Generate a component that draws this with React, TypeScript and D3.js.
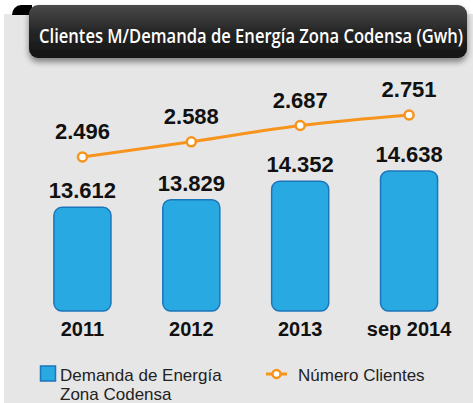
import * as d3 from "d3";

const periods = ["2011", "2012", "2013", "sep 2014"];
const demand = [13612, 13829, 14352, 14638];
const clients = [2496, 2588, 2687, 2751];
const demandLabels = ["13.612", "13.829", "14.352", "14.638"];
const clientLabels = ["2.496", "2.588", "2.687", "2.751"];

const W = 473;
const H = 403;

export default function App() {
  const x = d3.scaleBand().domain(periods).range([28, 463.5]).paddingInner(0.476).paddingOuter(0.238);
  const yBar = d3.scaleLinear().domain([10686, 14638]).range([311, 171]);
  const yLine = d3.scaleLinear().domain([2496, 2751]).range([157, 115]);
  const cx = (p: string) => (x(p) as number) + x.bandwidth() / 2;

  const line = d3
    .line<number>()
    .x((_, i) => cx(periods[i]))
    .y((d) => yLine(d))
    .curve(d3.curveMonotoneX);

  const titleScale = 0.87;

  return (
    <svg
      width={W}
      height={H}
      style={{ position: "absolute", left: 0, top: 0 }}
      fontFamily="'Liberation Sans', Arial, sans-serif"
    >
      <defs>
        <linearGradient id="banner" x1="0" y1="0" x2="0" y2="1">
          <stop offset="0" stopColor="#4a4a4a" />
          <stop offset="0.5" stopColor="#262626" />
          <stop offset="1" stopColor="#141414" />
        </linearGradient>
        <filter id="shadow" x="-5%" y="-20%" width="110%" height="160%">
          <feGaussianBlur in="SourceAlpha" stdDeviation="3" />
          <feOffset dx="0" dy="4" />
          <feComponentTransfer>
            <feFuncA type="linear" slope="0.45" />
          </feComponentTransfer>
          <feMerge>
            <feMergeNode />
            <feMergeNode in="SourceGraphic" />
          </feMerge>
        </filter>
      </defs>
      <rect x={0} y={0} width={W} height={H} fill="#ffffff" />
      <rect x={4} y={14} width={W - 4} height={H - 14} fill="#e6e6e6" />

      {/* title banner with curl */}
      <path d="M12,15 A9,10 0 0 1 21,5 L32,5 L32,15 Z" fill="#000" />
      <rect x={29} y={5} width={438} height={53} rx={9} fill="url(#banner)" filter="url(#shadow)" />
      <g transform={`translate(39,43) scale(${titleScale},1)`}>
        <text
          x={0}
          y={0}
          fill="#ffffff"
          fontFamily="'Open Sans', sans-serif"
          fontWeight={600}
          fontSize={19}
          textLength={424 / titleScale}
          lengthAdjust="spacingAndGlyphs"
        >
          Clientes M/Demanda de Energía Zona Codensa (Gwh)
        </text>
      </g>

      {/* bars */}
      {periods.map((p, i) => (
        <g key={p}>
          <rect
            x={x(p)}
            y={yBar(demand[i])}
            width={x.bandwidth()}
            height={311 - yBar(demand[i])}
            rx={8}
            fill="#29a9e1"
            stroke="#1b75bb"
            strokeWidth={1.5}
          />
          <text
            x={cx(p)}
            y={yBar(demand[i]) - 9}
            textAnchor="middle"
            fontWeight="bold"
            fontSize={22}
            fill="#111"
          >
            {demandLabels[i]}
          </text>
          <text x={cx(p)} y={336} textAnchor="middle" fontWeight="bold" fontSize={20} fill="#111">
            {p}
          </text>
        </g>
      ))}

      {/* line */}
      <path d={line(clients) ?? ""} fill="none" stroke="#f7941d" strokeWidth={3} />
      {clients.map((c, i) => (
        <g key={i}>
          <circle cx={cx(periods[i])} cy={yLine(c)} r={4.5} fill="#fff" stroke="#f7941d" strokeWidth={2.5} />
          <text
            x={cx(periods[i])}
            y={yLine(c) - 18}
            textAnchor="middle"
            fontWeight="bold"
            fontSize={22}
            fill="#111"
          >
            {clientLabels[i]}
          </text>
        </g>
      ))}

      {/* legend */}
      <rect x={40.5} y={366} width={15} height={15} fill="#29a9e1" stroke="#1b75bb" strokeWidth={1.5} />
      <text x={60} y={381} fontSize={17} fill="#222">
        Demanda de Energía
      </text>
      <text x={60} y={400} fontSize={17} fill="#222">
        Zona Codensa
      </text>
      <line x1={266} x2={287} y1={374} y2={374} stroke="#f7941d" strokeWidth={3} />
      <circle cx={276.5} cy={374} r={4} fill="#fff" stroke="#f7941d" strokeWidth={2.5} />
      <text x={298} y={381} fontSize={17} fill="#222">
        Número Clientes
      </text>
    </svg>
  );
}
